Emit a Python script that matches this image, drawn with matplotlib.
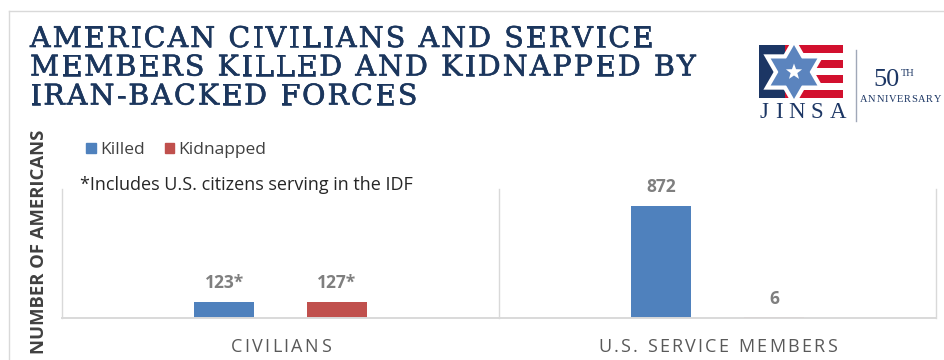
import matplotlib
matplotlib.use('Agg')
import matplotlib.pyplot as plt
import matplotlib.patheffects as pe
import numpy as np
from matplotlib.font_manager import FontProperties, findfont
from matplotlib.ft2font import FT2Font
from matplotlib.patches import Rectangle, Polygon
from matplotlib.lines import Line2D

# ---------------- data ----------------
categories = ['CIVILIANS', 'U.S. SERVICE MEMBERS']
killed = [123, 872]
kidnapped = [127, 6]
killed_labels = ['123*', '872']
kidnapped_labels = ['127*', '6']
series_names = ['Killed', 'Kidnapped']
title_lines = ['AMERICAN CIVILIANS AND SERVICE',
               'MEMBERS KILLED AND KIDNAPPED BY',
               'IRAN-BACKED FORCES']
note = '*Includes U.S. citizens serving in the IDF'
ylabel = 'NUMBER OF AMERICANS'

# ---------------- figure ----------------
W, H, DPI = 945, 360, 100
fig = plt.figure(figsize=(W / DPI, H / DPI), dpi=DPI)
fig.patch.set_facecolor('white')

def fx(px):
    return px / W

def fy(py):
    return 1 - py / H

BLUE = '#4f81bd'
RED = '#c0504d'
NAVY = '#1b365d'
GRID = '#d9d9d9'

ax = fig.add_axes([fx(62), fy(318), fx(936) - fx(62), fy(189) - fy(318)])
x = np.arange(len(categories))
bw = 0.137
off = 0.129
b1 = ax.bar(x - off, killed, bw, color=BLUE, label=series_names[0])
b2 = ax.bar(x + off, kidnapped, bw, color=RED, label=series_names[1])
ax.set_xlim(-0.5, len(categories) - 0.5)
ax.set_ylim(0, 1000)
for s in ['top', 'left', 'right']:
    ax.spines[s].set_visible(False)
ax.spines['bottom'].set_color(GRID)
ax.spines['bottom'].set_linewidth(1.4)
ax.spines['bottom'].set_zorder(5)
for xv in np.arange(len(categories) + 1) - 0.5:
    ax.axvline(xv, color=GRID, lw=1, clip_on=False)
ax.set_xticks(x)
ax.set_xticklabels([])
ax.set_yticks([])
ax.tick_params(length=0)

lab_kw = dict(family=['Open Sans', 'DejaVu Sans'], weight='bold', size=12.5, color='#7f7f7f')
ax.bar_label(b1, labels=killed_labels, padding=7, **lab_kw)
ax.bar_label(b2, labels=kidnapped_labels, padding=7, **lab_kw)

# ---------------- overlay (pixel coords) ----------------
ov = fig.add_axes([0, 0, 1, 1])
ov.set_xlim(0, W)
ov.set_ylim(H, 0)
ov.axis('off')
ov.patch.set_alpha(0)


def adv_px(s, prop):
    f = FT2Font(findfont(prop))
    f.set_size(prop.get_size_in_points(), 72)
    return [f.load_char(ord(c)).linearHoriAdvance / 65536 * DPI / 72 for c in s]


def tracked(x0, y, s, prop, track, color, ha='left', effects=None):
    adv = adv_px(s, prop)
    total = sum(adv) + track * (len(s) - 1)
    if ha == 'center':
        x0 -= total / 2
    elif ha == 'right':
        x0 -= total
    xc = x0
    for c, a in zip(s, adv):
        t = ov.text(xc, y, c, fontproperties=prop, color=color, va='baseline', ha='left')
        if effects:
            t.set_path_effects(effects)
        xc += a + track


def fit_track(s, prop, width):
    adv = adv_px(s, prop)
    return (width - sum(adv)) / (len(s) - 1)

# frame
ov.add_line(Line2D([9, 9], [360, 11], color=GRID, lw=1))
ov.add_line(Line2D([9, 945], [11, 11], color=GRID, lw=1))

# title
tprop = FontProperties(family='DejaVu Serif', size=20.5)
ttrack = fit_track(title_lines[0], tprop, 623)
teff = [pe.withStroke(linewidth=0.45, foreground=NAVY)]
for line, base in zip(title_lines, [47, 75.5, 104.5]):
    tracked(30, base, line, tprop, ttrack, NAVY, effects=teff)

# legend
handles = [Rectangle((0, 0), 1, 1, color=BLUE), Rectangle((0, 0), 1, 1, color=RED)]
leg = fig.legend(handles, series_names, loc='center left',
                 bbox_to_anchor=(fx(86), fy(150)), ncol=2, frameon=False,
                 prop=FontProperties(family='Open Sans', size=12.5),
                 handlelength=0.55, handleheight=0.55, handletextpad=0.25,
                 columnspacing=1.15, borderpad=0, borderaxespad=0)
for t in leg.get_texts():
    t.set_color('#404040')

# note
ov.text(80, 190, note, family=['Open Sans', 'DejaVu Sans'], size=13,
        color='#262626', va='baseline', ha='left')

# y label
ov.text(39, 242, ylabel, family=['Open Sans', 'DejaVu Sans'], weight='bold',
        size=13.3, color='#404040', rotation=90, ha='center', va='center')

# category labels
cprop = FontProperties(family='Open Sans', size=13)
ctrack = fit_track(categories[0], cprop, 100)
fig.canvas.draw()
for i, cat in enumerate(categories):
    cx_disp = ax.transData.transform((x[i], 0))[0]
    tracked(cx_disp, 352, cat, cprop, ctrack, '#595959', ha='center')

# logo
LNAVY = '#1c3664'
LRED = '#d2102e'
LBLUE = '#5b84be'
ov.add_patch(Rectangle((759, 45), 42, 53, color=LNAVY, lw=0))
sh = 53 / 7
for k in range(0, 7, 2):
    ov.add_patch(Rectangle((785, 45 + k * sh), 58, sh, color=LRED, lw=0))
cx, cy, R = 794, 72, 27
c30 = np.cos(np.pi / 6)
up = [(cx, cy - R), (cx - R * c30, cy + R / 2), (cx + R * c30, cy + R / 2)]
dn = [(cx, cy + R), (cx - R * c30, cy - R / 2), (cx + R * c30, cy - R / 2)]
for tri in (up, dn):
    ov.add_patch(Polygon(tri, closed=True, facecolor='white', edgecolor='white', lw=6, joinstyle='miter'))
for tri in (up, dn):
    ov.add_patch(Polygon(tri, closed=True, facecolor=LBLUE, edgecolor='none'))
ang = np.pi / 2 + np.arange(10) * np.pi / 5
rr = np.where(np.arange(10) % 2 == 0, 8.5, 3.5)
ov.add_patch(Polygon(np.c_[cx + rr * np.cos(ang), cy - rr * np.sin(ang)], closed=True,
                     facecolor='white', edgecolor='none'))
jprop = FontProperties(family='Liberation Serif', size=16.5)
tracked(760, 118, 'JINSA', jprop, fit_track('JINSA', jprop, 86), LNAVY)
ov.add_line(Line2D([856, 856], [50, 121], color='#a0a8b8', lw=1))
ov.text(873, 86, '50', family='Liberation Serif', size=19, color=LNAVY, va='baseline', ha='left')
ov.text(901, 75.5, 'TH', family='Liberation Serif', size=7.5, color=LNAVY, va='baseline', ha='left')
aprop = FontProperties(family='Liberation Serif', size=7.5)
tracked(860, 102, 'ANNIVERSARY', aprop, fit_track('ANNIVERSARY', aprop, 81), LNAVY)

fig.savefig('out.png', dpi=DPI, facecolor='white')
